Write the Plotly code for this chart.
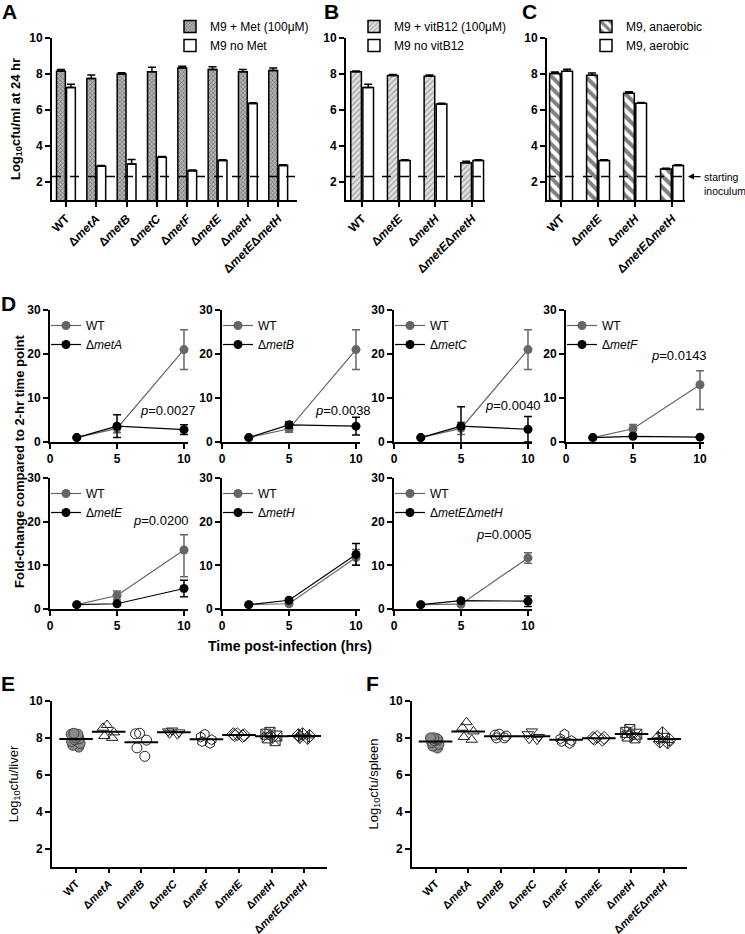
import plotly.graph_objects as go
import numpy as np

W, H = 745, 934
FONT = "Arial, 'Liberation Sans', sans-serif"

# ---------------- Data ----------------
A_CATS = ["WT", "ΔmetA", "ΔmetB", "ΔmetC", "ΔmetF", "ΔmetE", "ΔmetH", "ΔmetEΔmetH"]
A_TICKS = ["WT", "Δ<i>metA</i>", "Δ<i>metB</i>", "Δ<i>metC</i>", "Δ<i>metF</i>",
           "Δ<i>metE</i>", "Δ<i>metH</i>", "Δ<i>metE</i>Δ<i>metH</i>"]
A_MET = [8.15, 7.75, 8.0, 8.13, 8.33, 8.25, 8.13, 8.2]
A_MET_ERR = [0.1, 0.2, 0.07, 0.25, 0.1, 0.15, 0.12, 0.13]
A_NOMET = [7.25, 2.87, 3.0, 3.38, 2.62, 3.2, 6.36, 2.92]
A_NOMET_ERR = [0.18, 0.04, 0.25, 0.04, 0.05, 0.04, 0.04, 0.04]

B_CATS = ["WT", "ΔmetE", "ΔmetH", "ΔmetEΔmetH"]
B_TICKS = ["WT", "Δ<i>metE</i>", "Δ<i>metH</i>", "Δ<i>metE</i>Δ<i>metH</i>"]
B_VIT = [8.12, 7.92, 7.87, 3.07]
B_VIT_ERR = [0.04, 0.05, 0.08, 0.08]
B_NOVIT = [7.25, 3.2, 6.34, 3.2]
B_NOVIT_ERR = [0.18, 0.04, 0.03, 0.04]

C_ANA = [8.03, 7.93, 6.93, 2.72]
C_ANA_ERR = [0.08, 0.12, 0.08, 0.04]
C_AER = [8.15, 3.2, 6.38, 2.92]
C_AER_ERR = [0.12, 0.04, 0.04, 0.04]
START_INOC = 2.3

D_TIME = [2, 5, 10]
D_MUTANTS = ["Δ<i>metA</i>", "Δ<i>metB</i>", "Δ<i>metC</i>", "Δ<i>metF</i>",
             "Δ<i>metE</i>", "Δ<i>metH</i>", "Δ<i>metE</i>Δ<i>metH</i>"]
D_WT_MEAN = [[1, 3.1, 21.0], [1, 3.0, 21.0], [1, 3.1, 21.0], [1, 3.0, 13.0],
             [1, 3.1, 13.5], [1, 1.2, 11.8], [1, 1.1, 11.7]]
D_WT_UP = [[0.1, 1.0, 4.5], [0.1, 0.8, 4.5], [0.1, 1.4, 4.5], [0.1, 1.0, 3.2],
           [0.1, 1.0, 3.5], [0.1, 0.3, 1.8], [0.1, 0.3, 1.2]]
D_WT_DOWN = [[0.1, 1.0, 4.5], [0.1, 0.8, 4.5], [0.1, 1.4, 4.5], [0.1, 1.0, 5.6],
             [0.1, 1.0, 6.1], [0.1, 0.3, 1.8], [0.1, 0.3, 1.2]]
D_MUT_MEAN = [[1, 3.6, 2.8], [1, 3.9, 3.6], [1, 3.6, 2.9], [1, 1.3, 1.1],
              [1, 1.2, 4.7], [1, 2.0, 12.5], [1, 1.9, 1.8]]
D_MUT_ERR = [[0.1, 2.6, 1.1], [0.1, 0.7, 2.0], [0.1, 4.4, 2.9], [0.1, 0.3, 0.2],
             [0.1, 0.3, 1.9], [0.1, 0.3, 2.5], [0.1, 0.3, 1.2]]
D_PTEXT = ["<i>p</i>=0.0027", "<i>p</i>=0.0038", "<i>p</i>=0.0040", "<i>p</i>=0.0143",
           "<i>p</i>=0.0200", "ns", "<i>p</i>=0.0005"]
D_PX = [8.8, 9.05, 8.85, 8.4, 8.3, 10.4, 8.2]
D_PY = [7.2, 7.2, 8.2, 19.6, 20.2, 18.3, 17.0]

LIVER_VALUES = [
    [8.25, 8.2, 8.2, 8.1, 8.0, 7.95, 7.9, 7.8, 7.7, 7.6, 7.5, 8.15],
    [8.7, 8.55, 8.3, 8.1, 8.0],
    [8.25, 8.22, 7.88, 7.46, 7.0],
    [8.4, 8.35, 8.3, 8.25, 8.2],
    [8.2, 8.05, 7.9, 7.8, 7.7],
    [8.2, 8.15, 8.1, 8.2, 8.15],
    [8.3, 8.2, 8.0, 8.1, 7.85],
    [8.2, 8.1, 8.0, 8.15, 8.05],
]
SPLEEN_VALUES = [
    [8.0, 8.0, 7.95, 7.9, 7.85, 7.75, 7.65, 7.55, 7.45, 7.95],
    [8.85, 8.55, 8.35, 8.05, 7.9],
    [8.2, 8.15, 8.1, 8.0, 8.0],
    [8.35, 8.2, 8.05, 7.9, 7.95],
    [8.2, 7.95, 7.8, 7.7, 7.85],
    [8.05, 8.0, 7.95, 7.9, 8.0],
    [8.45, 8.2, 8.1, 8.0, 8.3],
    [8.25, 8.0, 7.8, 7.75, 7.9],
]
EF_SYMBOLS = ["circle", "triangle-up-open", "circle-open", "triangle-down-open",
              "hexagon-open", "diamond-open", "square-x-open", "diamond-cross-open"]


def px_x(p):
    return p / W


def px_y(p):
    return 1 - p / H


TICKFONT = dict(family=FONT, size=12, color="black", weight="bold")
AX = dict(showline=True, linewidth=2, linecolor="black", ticks="outside",
          tickwidth=2, tickcolor="black", showgrid=False, zeroline=False,
          automargin=False)

fig = go.Figure()
layout = dict(width=W, height=H, margin=dict(l=0, r=0, t=0, b=0, autoexpand=False),
              autosize=False,
              paper_bgcolor="white", plot_bgcolor="white",
              font=dict(family=FONT, color="black", size=12),
              barmode="group", bargap=0.34, bargroupgap=0.12,
              boxmode="overlay", boxgap=0.3,
              showlegend=True)

# ---------------- Panels A, B, C (bars) ----------------
err_kw = dict(type="data", symmetric=False, color="black", thickness=1.5, width=4)
bar_line = dict(color="black", width=1.5)

def add_bars(cats, vals, errs, name, pattern, ax, legend):
    fig.add_trace(go.Bar(
        x=cats, y=vals, name=name, xaxis="x" + ax, yaxis="y" + ax, legend=legend,
        marker=dict(color="white", line=bar_line, pattern=pattern),
        error_y=dict(array=errs, arrayminus=[0] * len(errs), **err_kw),
        hoverinfo="skip"))

pat_A = dict(shape="x", fgcolor="#2a2a2a", bgcolor="#b4b4b4", size=3, solidity=0.4)
pat_B = dict(shape="/", fgcolor="#555555", bgcolor="#e2e2e2", size=4, solidity=0.3)
pat_C = dict(shape="\\", fgcolor="black", bgcolor="white", size=8, solidity=0.5)
pat_none = dict(shape="")

add_bars(A_CATS, A_MET, A_MET_ERR, "M9 + Met (100μM)", pat_A, "", "legend")
add_bars(A_CATS, A_NOMET, A_NOMET_ERR, "M9 no Met", pat_none, "", "legend")
add_bars(B_CATS, B_VIT, B_VIT_ERR, "M9 + vitB12 (100μM)", pat_B, "2", "legend2")
add_bars(B_CATS, B_NOVIT, B_NOVIT_ERR, "M9 no vitB12", pat_none, "2", "legend2")
add_bars(B_CATS, C_ANA, C_ANA_ERR, "M9, anaerobic", pat_C, "3", "legend3")
add_bars(B_CATS, C_AER, C_AER_ERR, "M9, aerobic", pat_none, "3", "legend3")

bar_y_dom = [px_y(200), px_y(38)]
bar_panels = [("", [52, 297], A_CATS, A_TICKS, [-0.46, 7.62]),
              ("2", [346, 485], B_CATS, B_TICKS, [-0.44, 3.35]),
              ("3", [547, 685], B_CATS, B_TICKS, [-0.38, 3.35])]
for ax, xd, cats, ticks, rng in bar_panels:
    layout["xaxis" + ax] = dict(domain=[px_x(xd[0]), px_x(xd[1])], anchor="y" + ax,
                                type="category", categoryorder="array", categoryarray=cats,
                                tickvals=cats, ticktext=ticks, tickangle=-45, range=rng,
                                tickfont=TICKFONT, ticklen=5, **AX)
    layout["yaxis" + ax] = dict(domain=bar_y_dom, anchor="x" + ax, range=[1, 10],
                                tickvals=[2, 4, 6, 8, 10], tickfont=TICKFONT, ticklen=5, **AX)
layout["yaxis"]["title"] = dict(text="Log<sub>10</sub>cfu/ml at 24 hr",
                                font=dict(size=13, weight="bold"), standoff=6)

leg_common = dict(xanchor="left", yanchor="top", bgcolor="rgba(0,0,0,0)",
                  font=dict(size=12), itemwidth=30, tracegroupgap=0,
                  itemclick=False, itemdoubleclick=False)
layout["legend"] = dict(x=px_x(170), y=px_y(12), **leg_common)
layout["legend2"] = dict(x=px_x(354), y=px_y(12), **leg_common)
layout["legend3"] = dict(x=px_x(586), y=px_y(12), **leg_common)

shapes = []
for ax in ["", "2", "3"]:
    shapes.append(dict(type="line", xref="x" + ax + " domain",
                       yref="y" + ax, x0=0, x1=1, y0=START_INOC, y1=START_INOC,
                       line=dict(color="black", width=1.5, dash="dash"), layer="above"))

annotations = []
annotations.append(dict(text="starting<br>inoculum", xref="paper", yref="paper",
                        x=px_x(702), y=px_y(169), xanchor="left", yanchor="top",
                        align="left", showarrow=False, font=dict(size=10.5)))
annotations.append(dict(text="", xref="paper", yref="y3", x=px_x(688), y=START_INOC,
                        ax=14, ay=0, showarrow=True, arrowhead=2, arrowsize=1,
                        arrowwidth=1.2, arrowcolor="black"))

# ---------------- Panel D (time courses) ----------------
D_COLS = [50, 222, 394, 566]
D_ROWS = [(310, 442), (478, 609)]
D_POS = [(0, 0), (1, 0), (2, 0), (3, 0), (0, 1), (1, 1), (2, 1)]
WT_GRAY = "#666666"
for i, (c, r) in enumerate(D_POS):
    n = str(4 + i)
    xl = D_COLS[c]
    yt, yb = D_ROWS[r]
    leg = "legend" + n
    fig.add_trace(go.Scatter(
        x=D_TIME, y=D_WT_MEAN[i], name="WT", mode="lines+markers",
        xaxis="x" + n, yaxis="y" + n, legend=leg,
        line=dict(color=WT_GRAY, width=1.2), marker=dict(color=WT_GRAY, size=9),
        error_y=dict(type="data", symmetric=False, array=D_WT_UP[i],
                     arrayminus=D_WT_DOWN[i], color=WT_GRAY, thickness=1.5, width=4),
        cliponaxis=False, hoverinfo="skip"))
    fig.add_trace(go.Scatter(
        x=D_TIME, y=D_MUT_MEAN[i], name=D_MUTANTS[i], mode="lines+markers",
        xaxis="x" + n, yaxis="y" + n, legend=leg,
        line=dict(color="black", width=1.2), marker=dict(color="black", size=9),
        error_y=dict(type="data", array=D_MUT_ERR[i], color="black",
                     thickness=1.5, width=4),
        cliponaxis=False, hoverinfo="skip"))
    layout["xaxis" + n] = dict(domain=[px_x(xl), px_x(xl + 138)], anchor="y" + n,
                               range=[0, 10.3], tickvals=[0, 5, 10], tickfont=TICKFONT,
                               ticklen=5, **AX)
    layout["yaxis" + n] = dict(domain=[px_y(yb), px_y(yt)], anchor="x" + n,
                               range=[0, 30], tickvals=[0, 10, 20, 30], tickfont=TICKFONT,
                               ticklen=5, **AX)
    layout[leg] = dict(x=px_x(xl - 4), y=px_y(yt + 1), **leg_common)
    annotations.append(dict(text=D_PTEXT[i], xref="x" + n, yref="y" + n,
                            x=D_PX[i], y=D_PY[i], showarrow=False,
                            font=dict(size=13)))

annotations.append(dict(text="<b>Fold-change compared to 2-hr time point</b>",
                        xref="paper", yref="paper", x=px_x(20), y=px_y(462),
                        xanchor="center", yanchor="middle",
                        textangle=-90, showarrow=False, font=dict(size=13)))
annotations.append(dict(text="<b>Time post-infection (hrs)</b>", xref="paper",
                        yref="paper", x=px_x(290), y=px_y(646), xanchor="center",
                        yanchor="middle", showarrow=False, font=dict(size=14)))

# ---------------- Panels E, F (dot plots) ----------------
EF_TICKFONT = dict(family=FONT, size=11, color="black", weight="bold")
EF = [("11", [52, 327], LIVER_VALUES, "Log<sub>10</sub>cfu/liver", [-0.74, 7.7]),
      ("12", [412, 687], SPLEEN_VALUES, "Log<sub>10</sub>cfu/spleen", [-0.72, 7.7])]
for n, xd, values, title, rng in EF:
    for j, cat in enumerate(A_CATS):
        vals = values[j]
        wt = j == 0
        fig.add_trace(go.Box(
            x=[cat] * len(vals), y=vals, boxpoints="all", jitter=0.85, pointpos=0,
            fillcolor="rgba(0,0,0,0)", line=dict(color="rgba(0,0,0,0)", width=0),
            whiskerwidth=0, xaxis="x" + n, yaxis="y" + n, showlegend=False,
            hoverinfo="skip",
            marker=dict(symbol=EF_SYMBOLS[j], size=10,
                        color="#8a8a8a" if wt else "#222222",
                        line=dict(color="#444444" if wt else "#222222", width=1))))
    fig.add_trace(go.Scatter(
        x=A_CATS, y=[float(np.mean(v)) for v in values], mode="markers",
        xaxis="x" + n, yaxis="y" + n, showlegend=False, hoverinfo="skip",
        marker=dict(symbol="line-ew", size=24, color="black",
                    line=dict(color="black", width=2))))
    layout["xaxis" + n] = dict(domain=[px_x(xd[0]), px_x(xd[1])], anchor="y" + n,
                               type="category", categoryorder="array",
                               categoryarray=A_CATS, tickvals=A_CATS, ticktext=A_TICKS,
                               tickangle=-45, range=rng, tickfont=EF_TICKFONT, ticklen=4,
                               **AX)
    layout["yaxis" + n] = dict(domain=[px_y(867), px_y(701)], anchor="x" + n,
                               range=[1, 10], tickvals=[2, 4, 6, 8, 10], tickfont=TICKFONT,
                               ticklen=5,
                               title=dict(text=title, font=dict(size=13), standoff=8), **AX)

# ---------------- Panel letters ----------------
for letter, x, y in [("A", 9, 12), ("B", 331, 12), ("C", 529, 12), ("D", 8, 303),
                     ("E", 8, 683), ("F", 372, 683)]:
    annotations.append(dict(text="<b>" + letter + "</b>", xref="paper", yref="paper",
                            x=px_x(x), y=px_y(y), xanchor="center", yanchor="middle",
                            showarrow=False, font=dict(size=21)))

layout["shapes"] = shapes
layout["annotations"] = annotations
fig.update_layout(**layout)
fig.write_html("out.html", config={"displayModeBar": False},
               post_script="document.body.style.margin='0px';document.body.style.overflow='hidden';")
